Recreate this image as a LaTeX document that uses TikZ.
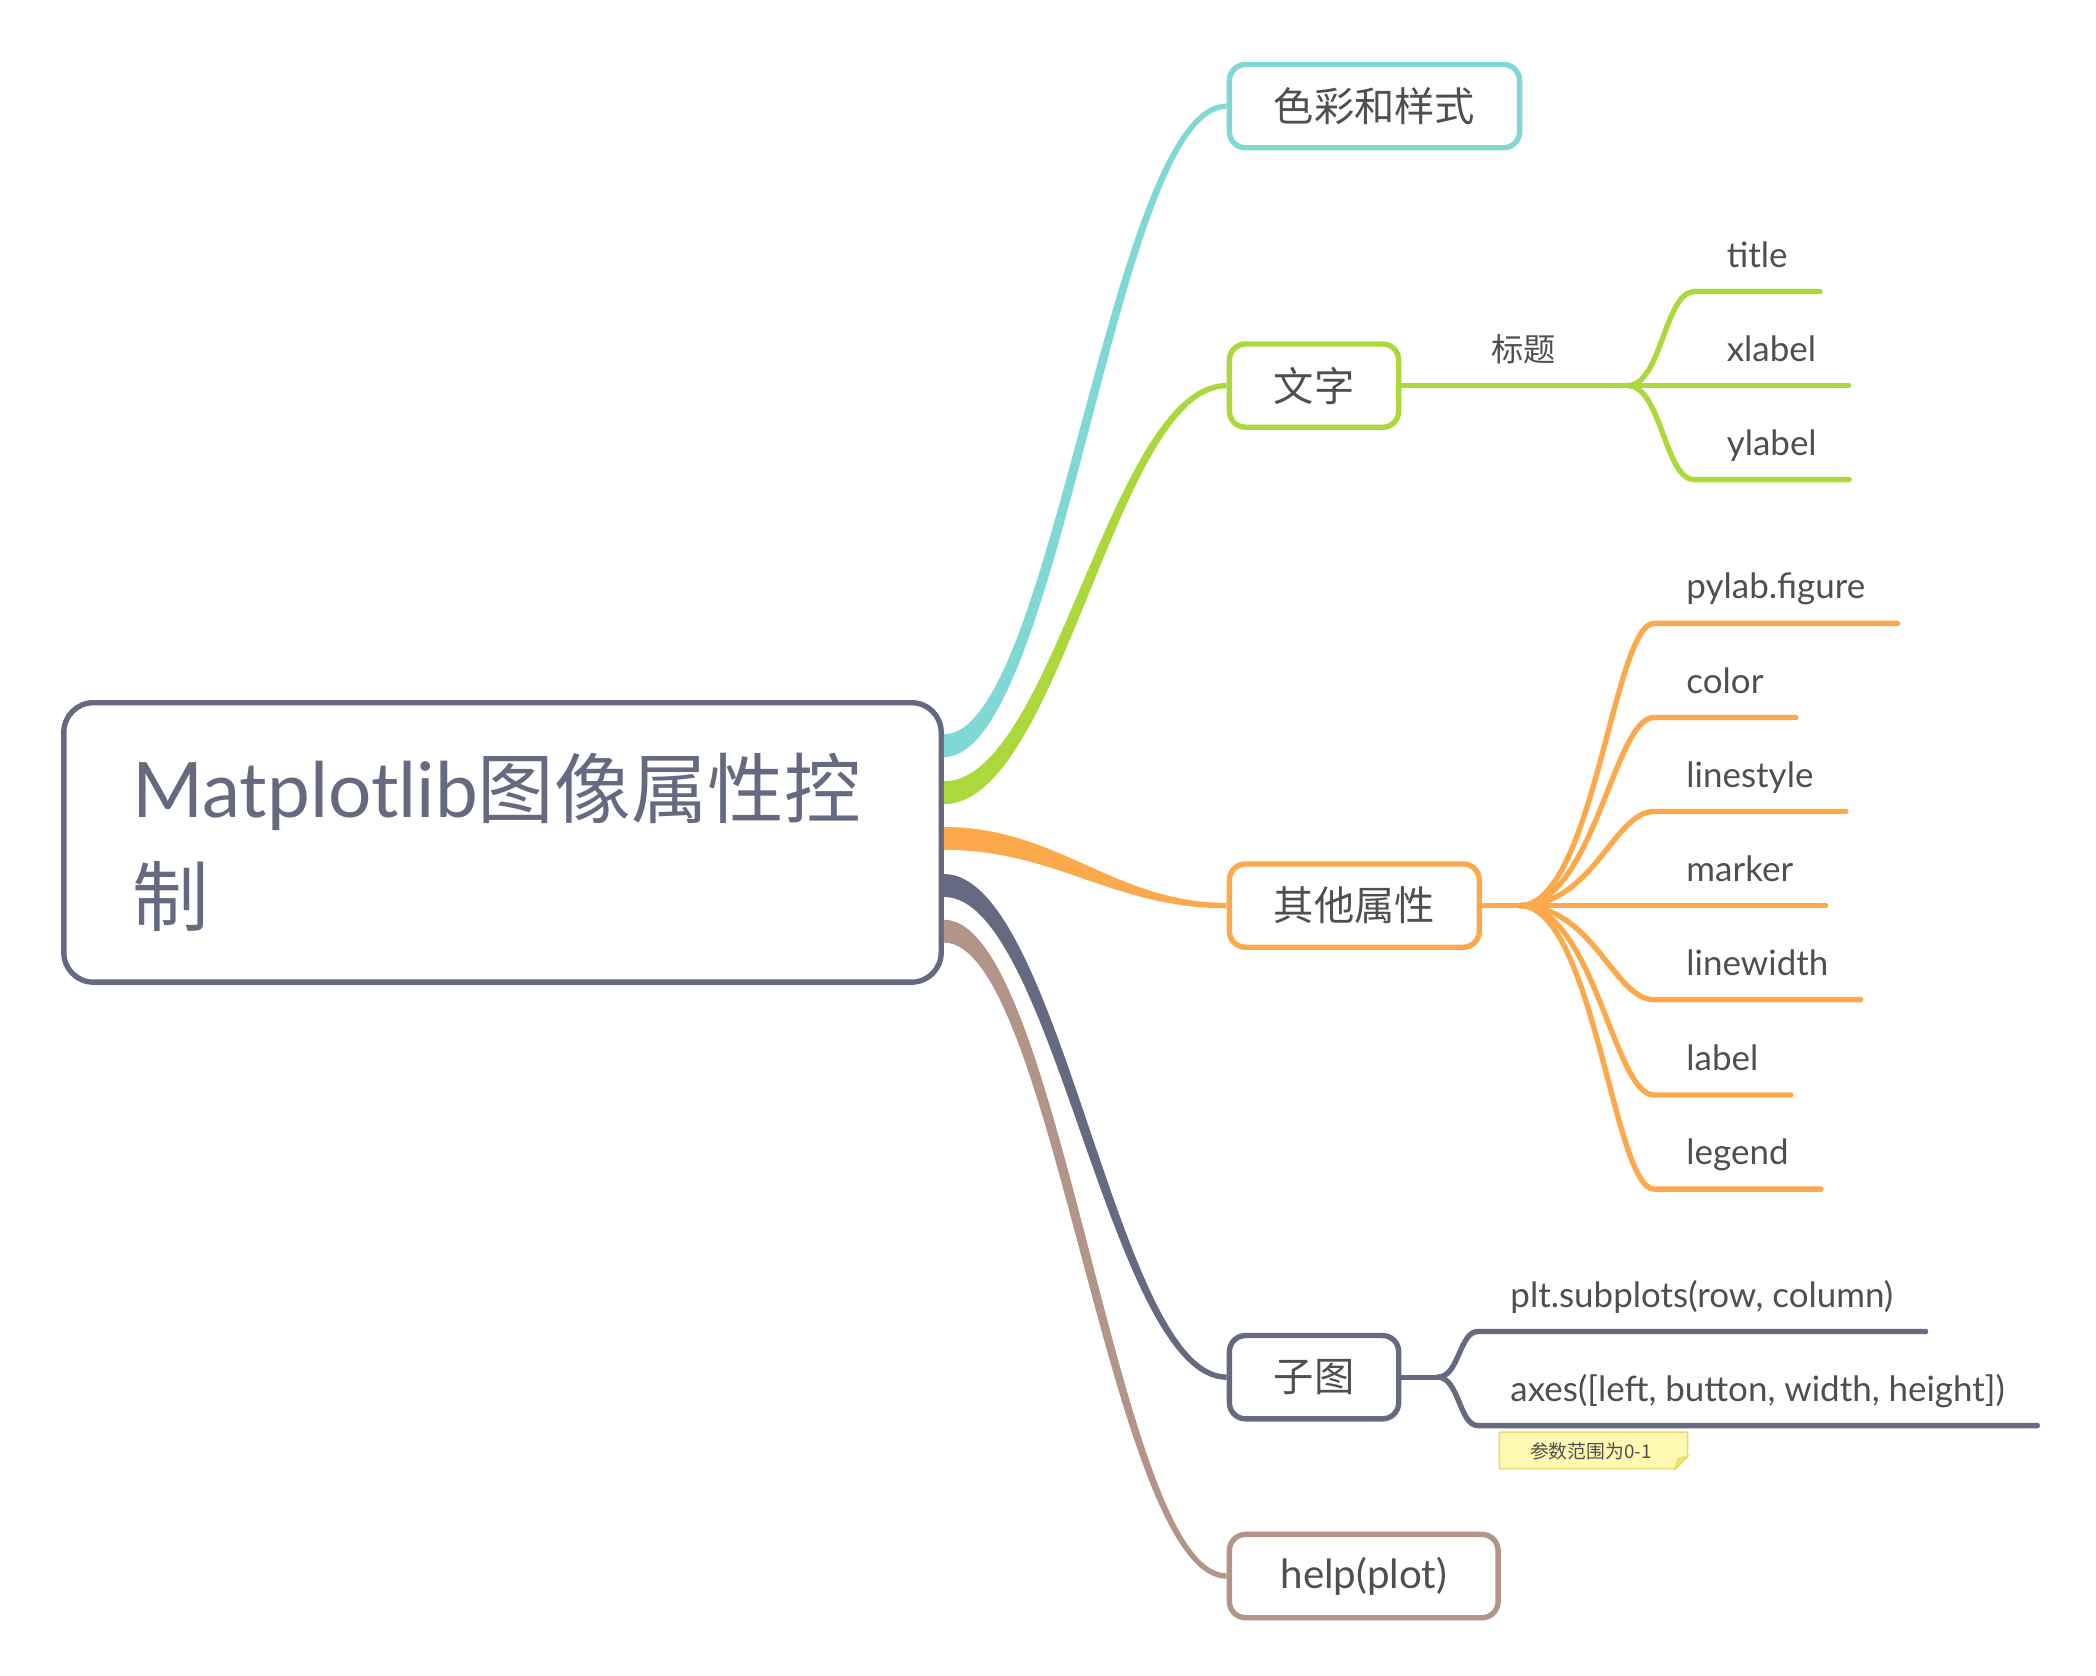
\documentclass[tikz,border=0pt]{standalone}
\usepackage{fontspec}
\setmainfont{Lato}
\newfontfamily\cjk{Noto Sans CJK SC}
\usetikzlibrary{calc}
\definecolor{cyanbr}{HTML}{7FD8D4}
\definecolor{greenbr}{HTML}{ABD83A}
\definecolor{orangebr}{HTML}{FBA94B}
\definecolor{darkbr}{HTML}{666A80}
\definecolor{brownbr}{HTML}{B39489}
\definecolor{txtgray}{HTML}{4F4F4F}
\definecolor{notefill}{HTML}{FFF8B2}
\definecolor{noteline}{HTML}{EBD96E}
\tikzset{
  maintopic/.style={draw=darkbr, line width=4pt, rounded corners=22pt, fill=white,
    minimum width=653pt, minimum height=208pt, text width=551pt, align=left,
    text=darkbr, font=\fontsize{57}{80}\selectfont},
  topic/.style={draw=#1, line width=4pt, rounded corners=12pt, fill=white, anchor=west,
    minimum height=62pt, inner xsep=33pt, text=txtgray, font=\fontsize{30}{36}\selectfont},
  leaf/.style={anchor=south west, inner xsep=24pt, inner ysep=11pt, text height=20pt,
    text depth=7pt, text=txtgray, font=\fontsize{26}{30}\selectfont},
  stem/.style={line width=4pt, line cap=round},
}
% tapered branch: colour, from, to, half width at start, half width at end
\newcommand{\taper}[5]{%
  \fill[#1] let \p1=(#2), \p2=(#3), \n1={0.4*(\x2-\x1)},
      \n2={3*(\y2-\y1)/veclen(\x2-\x1,\y2-\y1)} in
    (\x1,\y1+#4) .. controls (\x1+\n1-\n2,\y1+#4) and (\x2-\n1-\n2,\y2+#5) .. (\x2,\y2+#5)
    -- (\x2,\y2-#5) .. controls (\x2-\n1+\n2,\y2-#5) and (\x1+\n1+\n2,\y1-#4) .. (\x1,\y1-#4) -- cycle;}
\begin{document}
\begin{tikzpicture}[x=1pt,y=-1pt]
  \useasboundingbox (0,0) rectangle (1560,1247);
  \node[maintopic] (main) at (374,627) {Matplotlib{\cjk 图像属性控}\\{\cjk 制}};
  \node[topic=cyanbr] (cs) at (913,79) {\cjk 色彩和样式};
  \node[topic=greenbr] (wz) at (913,287) {\cjk 文字};
  \node[topic=orangebr] (qt) at (913,674) {\cjk 其他属性};
  \node[topic=darkbr] (zt) at (913,1025) {\cjk 子图};
  \node[topic=brownbr, minimum width=200pt] (hp) at (913,1173) {help(plot)};
  \foreach \i/\dy/\t/\c in {1/-72/cs/cyanbr, 2/-37/wz/greenbr, 3/-3/qt/orangebr, 4/32/zt/darkbr, 5/66/hp/brownbr} {
    \coordinate (m\i) at ($(main.east)+(0,\dy)$);
    \taper{\c}{m\i}{\t.west}{8.5pt}{2pt}
  };
  % text
  \node[leaf] (bt) at ([xshift=43pt]wz.east) {\cjk\fontsize{24}{28}\selectfont 标题};
  \coordinate (tfork) at ([xshift=29pt]bt.south east);
  \draw[stem, greenbr] (wz.east) -- (bt.south west) -- (tfork);
  \foreach \n/\y/\t in {tt/217/title, xl/287/xlabel, yl/357/ylabel} {
    \node[leaf] (\n) at (1261,\y) {\t};
    \draw[stem, greenbr] (tfork) .. controls +(25,0) and +(-22,0) .. (\n.south west) -- (\n.south east);
  };
  % other properties
  \coordinate (ofork) at ([xshift=28pt]qt.east);
  \draw[stem, orangebr] (qt.east) -- (ofork);
  \foreach \n/\y/\t in {pf/464/pylab.figure, co/534/color, ls/604/linestyle, mk/674/marker, lw/744/linewidth, lb/815/label, lg/885/legend} {
    \node[leaf] (\n) at (1231,\y) {\t};
    \draw[stem, orangebr] (ofork) .. controls +(55,0) and +(-30,0) .. (\n.south west) -- (\n.south east);
  };
  % subplots
  \coordinate (sfork) at ([xshift=27pt]zt.east);
  \draw[stem, darkbr] (zt.east) -- (sfork);
  \foreach \n/\y/\t in {sp/991/{plt.subplots(row, column)}, ax/1061/{axes([left, button, width, height])}} {
    \node[leaf] (\n) at (1100,\y) {\t};
    \draw[stem, darkbr] (sfork) .. controls +(16,0) and +(-14,0) .. (\n.south west) -- (\n.south east);
  };
  % note
  \coordinate (na) at ([xshift=16pt,yshift=-5pt]ax.south west);
  \filldraw[fill=notefill, draw=noteline, line width=1.2pt] (na) -- ++(140,0) -- ++(0,18) -- ++(-9,9) -- ++(-131,0) -- cycle;
  \filldraw[fill=noteline!60!notefill, draw=noteline, line width=1.2pt] ($(na)+(140,18)$) -- ++(-7,2) -- ++(-2,7) -- cycle;
  \node[text=txtgray, font=\cjk\fontsize{14}{16}\selectfont] (nt) at ($(na)+(68,14)$) {参数范围为0-1};
\end{tikzpicture}
\end{document}
